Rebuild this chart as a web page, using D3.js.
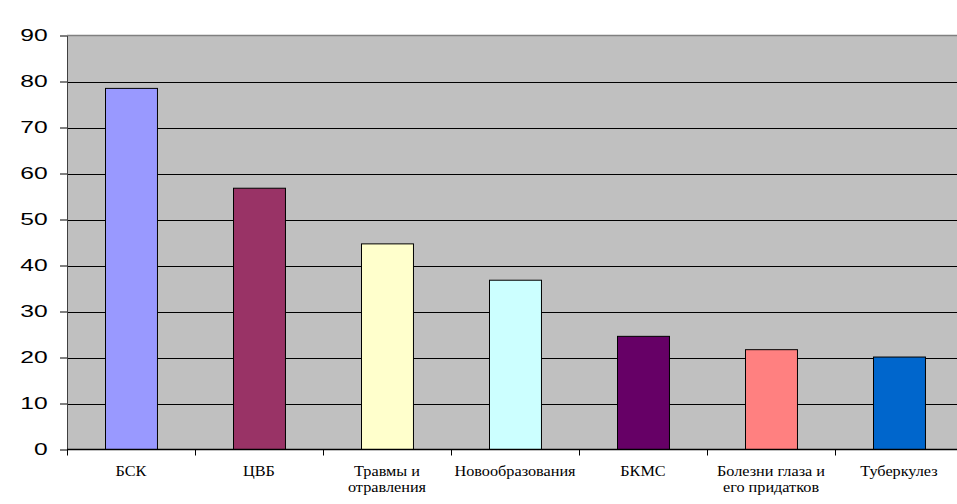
<!DOCTYPE html>
<html>
<head>
<meta charset="utf-8">
<script src="https://cdn.jsdelivr.net/npm/d3@7"></script>
<style>
  html, body { margin: 0; padding: 0; background: #ffffff; }
  svg { display: block; }
</style>
</head>
<body>
<svg id="chart" width="957" height="504"></svg>
<script>
// Disease groups and their values
const categories = [
  "БСК",
  "ЦВБ",
  "Травмы и отравления",
  "Новообразования",
  "БКМС",
  "Болезни глаза и его придатков",
  "Туберкулез"
];
const labelLines = [
  ["БСК"],
  ["ЦВБ"],
  ["Травмы и", "отравления"],
  ["Новообразования"],
  ["БКМС"],
  ["Болезни глаза и", "его придатков"],
  ["Туберкулез"]
];
const values = [78.5, 56.8, 44.7, 36.8, 24.6, 21.7, 20.1];
const barColors = ["#9999FF", "#993366", "#FFFFCC", "#CCFFFF", "#660066", "#FF8080", "#0066CC"];
const yTicks = [0, 10, 20, 30, 40, 50, 60, 70, 80, 90];

const svg = d3.select("#chart");
const plotLeft = 67, plotTop = 35.5, plotBottom = 449.5, plotRight = 963;
const yLabelStretch = 1.45, xLabelStretch = 1.16;

const x = d3.scaleBand().domain(categories).range([plotLeft, plotRight]).paddingInner(0.594).paddingOuter(0.297);
const y = d3.scaleLinear().domain([0, 90]).range([plotBottom, plotTop]);

// plot background
svg.append("rect")
  .attr("x", plotLeft).attr("y", plotTop)
  .attr("width", plotRight - plotLeft).attr("height", plotBottom - plotTop)
  .attr("fill", "#C0C0C0");

// horizontal gridlines
svg.append("g").selectAll("line")
  .data(yTicks.filter(d => d > 0 && d < 90))
  .join("line")
  .attr("x1", plotLeft).attr("x2", plotRight)
  .attr("y1", d => Math.round(y(d)) + 0.5).attr("y2", d => Math.round(y(d)) + 0.5)
  .attr("stroke", "#000").attr("stroke-width", 1);

// top border of plot
svg.append("line")
  .attr("x1", plotLeft).attr("x2", plotRight)
  .attr("y1", plotTop).attr("y2", plotTop)
  .attr("stroke", "#808080").attr("stroke-width", 1.5);

// bars
svg.append("g").selectAll("rect")
  .data(categories)
  .join("rect")
  .attr("x", d => Math.round(x(d)) + 0.5)
  .attr("y", (d, i) => y(values[i]))
  .attr("width", x.bandwidth())
  .attr("height", (d, i) => plotBottom - y(values[i]))
  .attr("fill", (d, i) => barColors[i])
  .attr("stroke", "#000").attr("stroke-width", 1);

// y axis
const yAxis = svg.append("g")
  .attr("transform", `translate(${plotLeft},0)`)
  .call(d3.axisLeft(y).tickValues(yTicks).tickSize(7).tickPadding(12).tickSizeOuter(0));
yAxis.select(".domain").attr("stroke", "#404040");
yAxis.selectAll(".tick line").attr("stroke", "#000");
yAxis.selectAll("text")
  .attr("x", -19.3 / yLabelStretch)
  .attr("transform", `scale(${yLabelStretch},1)`)
  .attr("font-family", "'Liberation Sans', Arial, sans-serif")
  .attr("font-size", 17)
  .attr("fill", "#000");

// x axis line and ticks at band boundaries
svg.append("line")
  .attr("x1", plotLeft).attr("x2", plotRight)
  .attr("y1", plotBottom).attr("y2", plotBottom)
  .attr("stroke", "#000").attr("stroke-width", 1.5);
svg.append("g").selectAll("line")
  .data(categories)
  .join("line")
  .attr("x1", (d, i) => plotLeft + i * x.step() + 0.5)
  .attr("x2", (d, i) => plotLeft + i * x.step() + 0.5)
  .attr("y1", plotBottom).attr("y2", plotBottom + 6)
  .attr("stroke", "#000");

// category labels
const lab = svg.append("g").selectAll("text")
  .data(categories)
  .join("text")
  .attr("transform", d => `translate(${x(d) + x.bandwidth() / 2},475.5) scale(${xLabelStretch},1)`)
  .attr("text-anchor", "middle")
  .attr("font-family", "'Liberation Serif', 'Times New Roman', serif")
  .attr("font-size", 14)
  .attr("fill", "#000");
lab.selectAll("tspan")
  .data((d, i) => labelLines[i])
  .join("tspan")
  .attr("x", 0)
  .attr("dy", (d, i) => i === 0 ? 0 : 17)
  .text(d => d);
</script>
</body>
</html>
